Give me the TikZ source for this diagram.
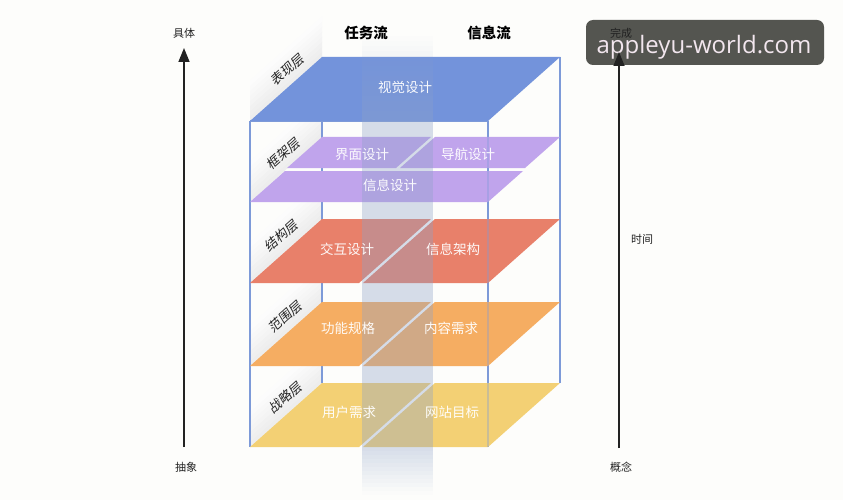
\documentclass[tikz,border=0pt]{standalone}
\usepackage{fontspec}
\setmainfont{Noto Sans CJK SC}
\newfontfamily\cjkslant{Noto Sans CJK SC}[FakeSlant=0.2]
\newfontfamily\wmfont{Open Sans}
\usetikzlibrary{arrows.meta}
\definecolor{bg}{HTML}{FDFDFB}
\definecolor{lblue}{HTML}{7393DB}
\definecolor{lpurple}{HTML}{C0A4EC}
\definecolor{lred}{HTML}{E8806A}
\definecolor{lorange}{HTML}{F5AD62}
\definecolor{lyellow}{HTML}{F3D074}
\definecolor{framec}{HTML}{7D9AD8}
\definecolor{colc}{HTML}{8FA3C8}
\definecolor{wmbox}{HTML}{545550}
\definecolor{wmtext}{HTML}{F2E6EE}
\definecolor{inkc}{HTML}{222222}
\tikzset{
  layertext/.style={text=white, text opacity=0.95, font=\fontsize{13.5}{14}\selectfont, inner sep=0pt},
  walllabel/.style={text=inkc, rotate=42, font=\cjkslant\fontsize{13}{13}\selectfont, inner sep=0pt},
  headlabel/.style={text=black, font=\bfseries\fontsize{14.5}{15}\selectfont, inner sep=0pt},
  axislabel/.style={text=inkc, font=\fontsize{11}{11}\selectfont, inner sep=0pt},
  axisline/.style={line width=1.5pt, inkc, -{Triangle[length=14pt,width=11pt]}},
  frameline/.style={framec, line width=1.3pt},
  colfill/.style={fill=colc, fill opacity=0.36},
}
\begin{document}
\begin{tikzpicture}[x=1pt,y=-1pt]
\useasboundingbox (0,0) rectangle (843,500);
\fill[bg] (0,0) rectangle (843,500);

% side wall shading
\foreach \t/\b in {57/121, 137/202, 219/283, 302/366, 383/447}{
  \foreach \i in {0,...,7}{
    \pgfmathsetmacro\pa{5*\i}
    \pgfmathsetmacro\pb{5*(\i+1)+0.4}
    \pgfmathsetmacro\pc{7-0.85*\i}
    \fill[black!\pc] (250,\b-\pa) -- (322,\t-\pa) -- (322,\t-\pb) -- (250,\b-\pb) -- cycle;
  }
}

% back frame lines
\draw[frameline] (322,121) -- (322,383);
\draw[frameline] (560,57) -- (560,383);
% front frame lines (full)
\draw[frameline] (250,121) -- (250,447);
\draw[frameline] (488,121) -- (488,447);
\draw[frameline] (250,121) -- (488,121);

% layers
\fill[lblue] (322,57) -- (560,57) -- (488,121) -- (250,121) -- cycle;
\fill[lpurple] (322,137) -- (431,137) -- (396,168) -- (287,168) -- cycle;
\fill[lpurple] (435,137) -- (560,137) -- (525,168) -- (400,168) -- cycle;
\fill[lpurple] (285,171) -- (523,171) -- (488,202) -- (250,202) -- cycle;
\foreach \t/\b/\c in {219/283/lred, 302/366/lorange, 383/447/lyellow}{
  \fill[\c] (322,\t) -- (431,\t) -- (359,\b) -- (250,\b) -- cycle;
  \fill[\c] (435,\t) -- (560,\t) -- (488,\b) -- (363,\b) -- cycle;
}

% front lines seen through the layers
\draw[frameline, opacity=0.35] (488,121) -- (488,447);

% task-flow column: fading in at the top, solid, fading out below
\foreach \i in {0,...,16}{
  \pgfmathsetmacro\op{0.36*(\i+0.5)/17}
  \fill[fill=colc, fill opacity=\op] (362,36+5*\i) rectangle (433,41+5*\i);
}
\fill[colfill] (362,121) rectangle (433,447);
\foreach \i in {0,...,11}{
  \pgfmathsetmacro\op{0.36*(11.5-\i)/12}
  \fill[fill=colc, fill opacity=\op] (362,447+4*\i) rectangle (433,451+4*\i);
}

% layer texts
\node[layertext] (t1) at (405,87) {视觉设计};
\node[layertext] (t2) at (362,154) {界面设计};
\node[layertext] (t3) at (468,154) {导航设计};
\node[layertext] (t4) at (390,185) {信息设计};
\node[layertext] (t5) at (347,249) {交互设计};
\node[layertext] (t6) at (453,249) {信息架构};
\node[layertext] (t7) at (348,328) {功能规格};
\node[layertext] (t8) at (451,328) {内容需求};
\node[layertext] (t9) at (349,412) {用户需求};
\node[layertext] (t10) at (452,412) {网站目标};

% wall labels
\node[walllabel] (w1) at (287,70) {表现层};
\node[walllabel] (w2) at (283,154) {框架层};
\node[walllabel] (w3) at (281,236) {结构层};
\node[walllabel] (w4) at (285,317) {范围层};
\node[walllabel] (w5) at (285,398) {战略层};

% headers
\node[headlabel] (h1) at (366,33) {任务流};
\node[headlabel] (h2) at (489,33) {信息流};

% left axis
\node[axislabel] (a1) at (184,33) {具体};
\node[axislabel] (a2) at (186,467) {抽象};
\coordinate (lb) at (184,447);
\coordinate (lt) at (184,48);
\draw[axisline] (lb) -- (lt);

% watermark
\node[fill=wmbox, rounded corners=7pt, minimum width=238pt, minimum height=45pt, inner sep=0pt] (wm) at (705,42.5) {};
\node[text=wmtext, font=\wmfont\fontsize{24}{24}\selectfont, anchor=base, inner sep=0pt] (wmt) at (704,54) {appleyu-world.com};

% right axis
\node[axislabel] (b1) at (621,33) {完成};
\node[axislabel] (b2) at (642,239) {时间};
\node[axislabel] (b3) at (621,467) {概念};
\coordinate (rb) at (619,448);
\coordinate (rt) at (619,52);
\draw[axisline] (rb) -- (rt);
\end{tikzpicture}
\end{document}
